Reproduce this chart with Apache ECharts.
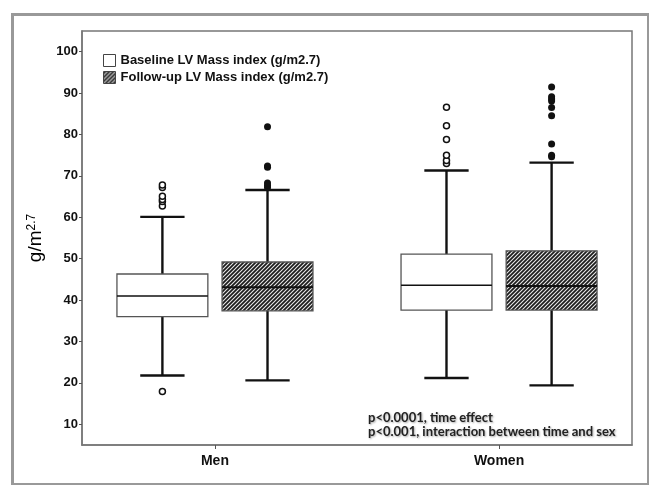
<!DOCTYPE html>
<html>
<head>
<meta charset="utf-8">
<script src="https://cdn.jsdelivr.net/npm/echarts@6/dist/echarts.min.js"></script>
<style>
html,body{margin:0;padding:0;background:#fff;}
#c{width:649px;height:485px;}
</style>
</head>
<body>
<div id="c"></div>
<script>
// ---- data ----
var categories = ['Men', 'Women'];
var seriesNames = ['Baseline LV Mass index (g/m2.7)', 'Follow-up LV Mass index (g/m2.7)'];
// [low whisker, Q1, median, Q3, high whisker] per category
var baselineBox = [
  [21.8, 36.0, 41.0, 46.3, 60.1],
  [21.2, 37.6, 43.6, 51.1, 71.3]
];
var followupBox = [
  [20.6, 37.4, 43.1, 49.2, 66.6],
  [19.4, 37.6, 43.4, 51.9, 73.2]
];
var baselineOutliersMen = [17.9, 62.7, 63.8, 64.3, 65.1, 67.2, 67.8];
var baselineOutliersWomen = [73.0, 73.7, 75.0, 78.8, 82.1, 86.6];
var followupOutliersMen = [67.2, 67.7, 68.3, 72.1, 72.4, 81.9];
var followupOutliersWomen = [74.6, 75.0, 77.7, 84.5, 86.5, 88.1, 88.6, 89.1, 91.5];
var yTicks = [10, 20, 30, 40, 50, 60, 70, 80, 90, 100];
var notes = ['p<0.0001, time effect', 'p<0.001, interaction between time and sex'];

// ---- layout constants (axis units) ----
var OFFSET = 0.185, BOXW = 0.32, CAPHALF = 0.078;

// hatch pattern
var pc = document.createElement('canvas');
pc.width = 4; pc.height = 4;
var pctx = pc.getContext('2d');
pctx.fillStyle = '#1c1c1c';
pctx.fillRect(0, 0, 4, 4);
pctx.strokeStyle = '#e8e8e8';
pctx.lineWidth = 1.1;
pctx.beginPath();
pctx.moveTo(-1, 5); pctx.lineTo(5, -1);
pctx.moveTo(-1, 1); pctx.lineTo(1, -1);
pctx.moveTo(3, 5); pctx.lineTo(5, 3);
pctx.stroke();
var hatch = { image: pc, repeat: 'repeat' };

function makeRender(offset, fill, medianW) {
  return function (params, api) {
    var cx = api.value(0) + offset;
    var lo = api.value(1), q1 = api.value(2), md = api.value(3), q3 = api.value(4), hi = api.value(5);
    var pLo = api.coord([cx, lo]), pQ1 = api.coord([cx, q1]), pMd = api.coord([cx, md]),
        pQ3 = api.coord([cx, q3]), pHi = api.coord([cx, hi]);
    var w = api.size([BOXW, 0])[0];
    var cap = api.size([CAPHALF, 0])[0];
    var x = pMd[0];
    var lineStyle = { stroke: '#111', lineWidth: 2.4 };
    return {
      type: 'group',
      children: [
        { type: 'line', shape: { x1: x, y1: pQ3[1], x2: x, y2: pHi[1] }, style: lineStyle },
        { type: 'line', shape: { x1: x, y1: pQ1[1], x2: x, y2: pLo[1] }, style: lineStyle },
        { type: 'line', shape: { x1: x - cap, y1: pHi[1], x2: x + cap, y2: pHi[1] }, style: lineStyle },
        { type: 'line', shape: { x1: x - cap, y1: pLo[1], x2: x + cap, y2: pLo[1] }, style: lineStyle },
        { type: 'rect', shape: { x: x - w / 2, y: pQ3[1], width: w, height: pQ1[1] - pQ3[1] },
          style: { fill: fill, stroke: '#555', lineWidth: 1.3 } },
        { type: 'line', shape: { x1: x - w / 2, y1: pMd[1], x2: x + w / 2, y2: pMd[1] },
          style: { stroke: '#111', lineWidth: medianW } }
      ]
    };
  };
}

function boxData(arr) {
  return arr.map(function (b, i) { return [i, b[0], b[1], b[2], b[3], b[4]]; });
}
function outData(vals, catIdx, off) {
  return vals.map(function (v) { return [catIdx + off, v]; });
}

var chart = echarts.init(document.getElementById('c'));
chart.setOption({
  animation: false,
  backgroundColor: '#fff',
  grid: { left: 82, top: 31, right: 17, bottom: 40, show: true, borderColor: '#777', borderWidth: 1.5 },
  legend: {
    orient: 'vertical', left: 103, top: 54, padding: 0, itemWidth: 12, itemHeight: 12, itemGap: 4,
    selectedMode: false,
    textStyle: { fontFamily: 'Liberation Sans, Arial', fontWeight: 'bold', fontSize: 13, color: '#111' },
    data: [
      { name: seriesNames[0], icon: 'rect', itemStyle: { color: '#fff', borderColor: '#444', borderWidth: 1 } },
      { name: seriesNames[1], icon: 'rect', itemStyle: { color: hatch, borderColor: '#444', borderWidth: 1 } }
    ]
  },
  xAxis: {
    type: 'value', min: -0.468, max: 1.468,
    splitLine: { show: false },
    axisLine: { show: true, onZero: false, lineStyle: { color: '#777', width: 1.5 } },
    axisTick: { show: true, length: 4, customValues: [0, 1], lineStyle: { color: '#555' } },
    axisLabel: {
      customValues: [0, 1], margin: 9,
      formatter: function (v) { return categories[Math.round(v)]; },
      fontFamily: 'Liberation Sans, Arial', fontWeight: 'bold', fontSize: 14, color: '#111'
    }
  },
  yAxis: {
    type: 'value', min: 5, max: 105,
    name: '{a|g/m}{b|2.7}', nameLocation: 'middle', nameGap: 34, nameRotate: 90,
    nameTextStyle: {
      rich: {
        a: { fontFamily: 'Liberation Sans, Arial', fontSize: 19, color: '#000' },
        b: { fontFamily: 'Liberation Sans, Arial', fontSize: 12, color: '#000', verticalAlign: 'top', padding: [0, 0, 8, 0] }
      }
    },
    splitLine: { show: false },
    axisLine: { show: true, onZero: false, lineStyle: { color: '#777', width: 1.5 } },
    axisTick: { show: true, length: 3, customValues: yTicks, lineStyle: { color: '#555' } },
    axisLabel: {
      customValues: yTicks, margin: 4,
      fontFamily: 'Liberation Sans, Arial', fontWeight: 'bold', fontSize: 13, color: '#111'
    }
  },
  series: [
    { name: seriesNames[0], type: 'custom', renderItem: makeRender(-OFFSET, '#fff', 1.6),
      itemStyle: { color: '#fff', borderColor: '#444' },
      encode: { x: 0, y: [1, 2, 3, 4, 5] }, data: boxData(baselineBox), z: 3 },
    { name: seriesNames[1], type: 'custom', renderItem: makeRender(OFFSET, hatch, 2.2),
      itemStyle: { color: '#333', borderColor: '#444' },
      encode: { x: 0, y: [1, 2, 3, 4, 5] }, data: boxData(followupBox), z: 3 },
    { type: 'scatter', symbol: 'circle', symbolSize: 6, z: 4,
      itemStyle: { color: '#fff', borderColor: '#111', borderWidth: 1.5, opacity: 1 },
      data: outData(baselineOutliersMen, 0, -OFFSET).concat(outData(baselineOutliersWomen, 1, -OFFSET)) },
    { type: 'scatter', symbol: 'circle', symbolSize: 7, z: 4,
      itemStyle: { color: '#111', opacity: 1 },
      data: outData(followupOutliersMen, 0, OFFSET).concat(outData(followupOutliersWomen, 1, OFFSET)) }
  ],
  graphic: [
    { type: 'rect', left: 10, top: 12, silent: true,
      shape: { x: 0, y: 0, width: 636, height: 470 },
      style: { fill: null, stroke: '#999', lineWidth: 3 } },
    { type: 'text', left: 368, top: 411,
      style: { text: notes[0], fontFamily: 'Lato', fontWeight: 'bold', fontSize: 13, fill: '#222',
               textShadowColor: 'rgba(0,0,0,0.35)', textShadowBlur: 2, textShadowOffsetX: 1, textShadowOffsetY: 1 } },
    { type: 'text', left: 368, top: 425,
      style: { text: notes[1], fontFamily: 'Lato', fontWeight: 'bold', fontSize: 13, fill: '#222',
               textShadowColor: 'rgba(0,0,0,0.35)', textShadowBlur: 2, textShadowOffsetX: 1, textShadowOffsetY: 1 } }
  ]
});
</script>
</body>
</html>
